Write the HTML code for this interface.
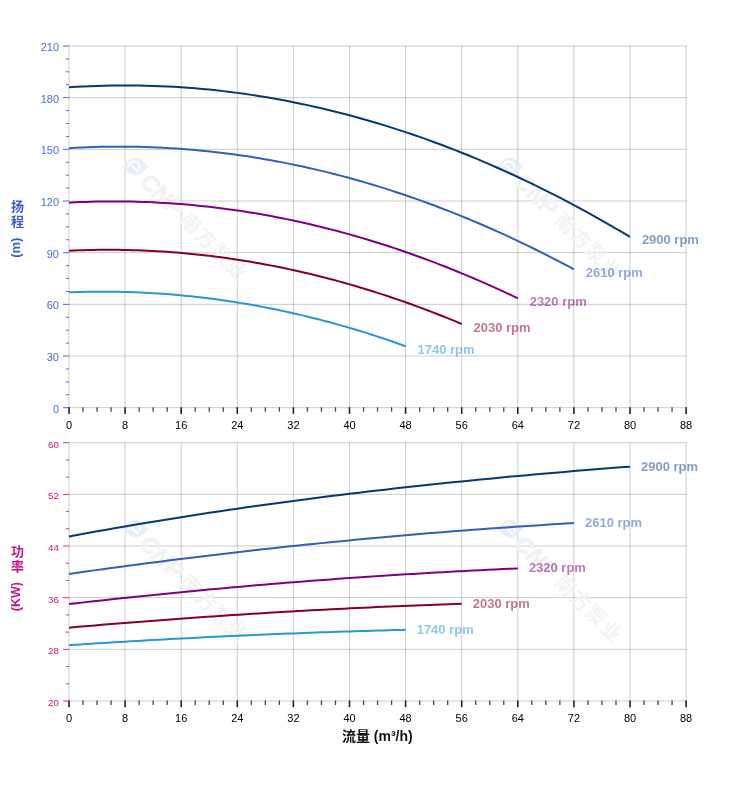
<!DOCTYPE html>
<html lang="zh"><head><meta charset="utf-8"><title>性能曲线</title>
<style>html,body{margin:0;padding:0;background:#fff}body{width:752px;height:797px;overflow:hidden}svg{display:block}</style>
</head><body>
<svg width="752" height="797" viewBox="0 0 752 797" font-family="'Liberation Sans','Noto Sans CJK SC',sans-serif">
<rect width="752" height="797" fill="#fff"/>
<g stroke="#000" stroke-opacity="0.2" stroke-width="1" fill="none">
<line x1="69.00" y1="45.50" x2="69.00" y2="408.20"/>
<line x1="125.10" y1="45.50" x2="125.10" y2="408.20"/>
<line x1="181.20" y1="45.50" x2="181.20" y2="408.20"/>
<line x1="237.30" y1="45.50" x2="237.30" y2="408.20"/>
<line x1="293.40" y1="45.50" x2="293.40" y2="408.20"/>
<line x1="349.50" y1="45.50" x2="349.50" y2="408.20"/>
<line x1="405.60" y1="45.50" x2="405.60" y2="408.20"/>
<line x1="461.70" y1="45.50" x2="461.70" y2="408.20"/>
<line x1="517.80" y1="45.50" x2="517.80" y2="408.20"/>
<line x1="573.90" y1="45.50" x2="573.90" y2="408.20"/>
<line x1="630.00" y1="45.50" x2="630.00" y2="408.20"/>
<line x1="686.10" y1="45.50" x2="686.10" y2="408.20"/>
<line x1="68.50" y1="46.00" x2="686.60" y2="46.00"/>
<line x1="68.50" y1="97.67" x2="686.60" y2="97.67"/>
<line x1="68.50" y1="149.34" x2="686.60" y2="149.34"/>
<line x1="68.50" y1="201.01" x2="686.60" y2="201.01"/>
<line x1="68.50" y1="252.69" x2="686.60" y2="252.69"/>
<line x1="68.50" y1="304.36" x2="686.60" y2="304.36"/>
<line x1="68.50" y1="356.03" x2="686.60" y2="356.03"/>
<line x1="68.50" y1="407.70" x2="686.60" y2="407.70"/>
</g>
<g stroke="#000" stroke-opacity="0.2" stroke-width="1" fill="none">
<line x1="69.00" y1="442.20" x2="69.00" y2="701.50"/>
<line x1="125.10" y1="442.20" x2="125.10" y2="701.50"/>
<line x1="181.20" y1="442.20" x2="181.20" y2="701.50"/>
<line x1="237.30" y1="442.20" x2="237.30" y2="701.50"/>
<line x1="293.40" y1="442.20" x2="293.40" y2="701.50"/>
<line x1="349.50" y1="442.20" x2="349.50" y2="701.50"/>
<line x1="405.60" y1="442.20" x2="405.60" y2="701.50"/>
<line x1="461.70" y1="442.20" x2="461.70" y2="701.50"/>
<line x1="517.80" y1="442.20" x2="517.80" y2="701.50"/>
<line x1="573.90" y1="442.20" x2="573.90" y2="701.50"/>
<line x1="630.00" y1="442.20" x2="630.00" y2="701.50"/>
<line x1="686.10" y1="442.20" x2="686.10" y2="701.50"/>
<line x1="68.50" y1="442.70" x2="686.60" y2="442.70"/>
<line x1="68.50" y1="494.36" x2="686.60" y2="494.36"/>
<line x1="68.50" y1="546.02" x2="686.60" y2="546.02"/>
<line x1="68.50" y1="597.68" x2="686.60" y2="597.68"/>
<line x1="68.50" y1="649.34" x2="686.60" y2="649.34"/>
<line x1="68.50" y1="701.00" x2="686.60" y2="701.00"/>
</g>
<g transform="translate(135.5,166.5) rotate(45)">
<g transform="rotate(-45)"><path d="M-13.3,0 L-6.09,-6.62 A9,9 0 0 1 6.09,-6.62 L13.3,0 L6.09,6.62 A9,9 0 0 1 -6.09,6.62 Z" fill="#e6eff9"/></g>
<path d="M4.25,-1.83 A5.8,5.8 0 1 0 -4.94,5.23 M-3.2,2 H4.8" fill="none" stroke="#fff" stroke-width="2.1" stroke-linecap="round"/>
<text x="13.5" y="9.3" font-size="23" font-weight="bold" font-style="italic" fill="#f1f2f4" stroke="#f1f2f4" stroke-width="1.1" textLength="50" lengthAdjust="spacingAndGlyphs">CNP</text>
<text x="69" y="8.5" font-size="20.5" font-weight="bold" fill="#f3f3f3" textLength="85" lengthAdjust="spacing">南方泵业</text>
</g>
<g transform="translate(510.0,166.5) rotate(45)">
<g transform="rotate(-45)"><path d="M-13.3,0 L-6.09,-6.62 A9,9 0 0 1 6.09,-6.62 L13.3,0 L6.09,6.62 A9,9 0 0 1 -6.09,6.62 Z" fill="#e6eff9"/></g>
<path d="M4.25,-1.83 A5.8,5.8 0 1 0 -4.94,5.23 M-3.2,2 H4.8" fill="none" stroke="#fff" stroke-width="2.1" stroke-linecap="round"/>
<text x="13.5" y="9.3" font-size="23" font-weight="bold" font-style="italic" fill="#f1f2f4" stroke="#f1f2f4" stroke-width="1.1" textLength="50" lengthAdjust="spacingAndGlyphs">CNP</text>
<text x="69" y="8.5" font-size="20.5" font-weight="bold" fill="#f3f3f3" textLength="85" lengthAdjust="spacing">南方泵业</text>
</g>
<g transform="translate(135.5,528.8) rotate(45)">
<g transform="rotate(-45)"><path d="M-13.3,0 L-6.09,-6.62 A9,9 0 0 1 6.09,-6.62 L13.3,0 L6.09,6.62 A9,9 0 0 1 -6.09,6.62 Z" fill="#e6eff9"/></g>
<path d="M4.25,-1.83 A5.8,5.8 0 1 0 -4.94,5.23 M-3.2,2 H4.8" fill="none" stroke="#fff" stroke-width="2.1" stroke-linecap="round"/>
<text x="13.5" y="9.3" font-size="23" font-weight="bold" font-style="italic" fill="#f1f2f4" stroke="#f1f2f4" stroke-width="1.1" textLength="50" lengthAdjust="spacingAndGlyphs">CNP</text>
<text x="69" y="8.5" font-size="20.5" font-weight="bold" fill="#f3f3f3" textLength="85" lengthAdjust="spacing">南方泵业</text>
</g>
<g transform="translate(510.0,528.8) rotate(45)">
<g transform="rotate(-45)"><path d="M-13.3,0 L-6.09,-6.62 A9,9 0 0 1 6.09,-6.62 L13.3,0 L6.09,6.62 A9,9 0 0 1 -6.09,6.62 Z" fill="#e6eff9"/></g>
<path d="M4.25,-1.83 A5.8,5.8 0 1 0 -4.94,5.23 M-3.2,2 H4.8" fill="none" stroke="#fff" stroke-width="2.1" stroke-linecap="round"/>
<text x="13.5" y="9.3" font-size="23" font-weight="bold" font-style="italic" fill="#f1f2f4" stroke="#f1f2f4" stroke-width="1.1" textLength="50" lengthAdjust="spacingAndGlyphs">CNP</text>
<text x="69" y="8.5" font-size="20.5" font-weight="bold" fill="#f3f3f3" textLength="85" lengthAdjust="spacing">南方泵业</text>
</g>
<g stroke="#3f5fe8" stroke-opacity="0.95" stroke-width="1">
<line x1="63.00" y1="46.00" x2="69.00" y2="46.00"/>
<line x1="66.00" y1="58.92" x2="69.00" y2="58.92"/>
<line x1="66.00" y1="71.84" x2="69.00" y2="71.84"/>
<line x1="66.00" y1="84.75" x2="69.00" y2="84.75"/>
<line x1="63.00" y1="97.67" x2="69.00" y2="97.67"/>
<line x1="66.00" y1="110.59" x2="69.00" y2="110.59"/>
<line x1="66.00" y1="123.51" x2="69.00" y2="123.51"/>
<line x1="66.00" y1="136.43" x2="69.00" y2="136.43"/>
<line x1="63.00" y1="149.34" x2="69.00" y2="149.34"/>
<line x1="66.00" y1="162.26" x2="69.00" y2="162.26"/>
<line x1="66.00" y1="175.18" x2="69.00" y2="175.18"/>
<line x1="66.00" y1="188.10" x2="69.00" y2="188.10"/>
<line x1="63.00" y1="201.01" x2="69.00" y2="201.01"/>
<line x1="66.00" y1="213.93" x2="69.00" y2="213.93"/>
<line x1="66.00" y1="226.85" x2="69.00" y2="226.85"/>
<line x1="66.00" y1="239.77" x2="69.00" y2="239.77"/>
<line x1="63.00" y1="252.69" x2="69.00" y2="252.69"/>
<line x1="66.00" y1="265.60" x2="69.00" y2="265.60"/>
<line x1="66.00" y1="278.52" x2="69.00" y2="278.52"/>
<line x1="66.00" y1="291.44" x2="69.00" y2="291.44"/>
<line x1="63.00" y1="304.36" x2="69.00" y2="304.36"/>
<line x1="66.00" y1="317.27" x2="69.00" y2="317.27"/>
<line x1="66.00" y1="330.19" x2="69.00" y2="330.19"/>
<line x1="66.00" y1="343.11" x2="69.00" y2="343.11"/>
<line x1="63.00" y1="356.03" x2="69.00" y2="356.03"/>
<line x1="66.00" y1="368.95" x2="69.00" y2="368.95"/>
<line x1="66.00" y1="381.86" x2="69.00" y2="381.86"/>
<line x1="66.00" y1="394.78" x2="69.00" y2="394.78"/>
<line x1="63.00" y1="407.70" x2="69.00" y2="407.70"/>
</g>
<g fill="#4a6ae2" font-size="11" text-anchor="end">
<text x="59" y="50.80">210</text>
<text x="59" y="102.80">180</text>
<text x="59" y="153.80">150</text>
<text x="59" y="205.80">120</text>
<text x="59" y="257.80">90</text>
<text x="59" y="308.80">60</text>
<text x="59" y="360.80">30</text>
<text x="59" y="412.80">0</text>
</g>
<g stroke="#c71585" stroke-opacity="0.85" stroke-width="1">
<line x1="63.00" y1="442.70" x2="69.00" y2="442.70"/>
<line x1="66.00" y1="459.92" x2="69.00" y2="459.92"/>
<line x1="66.00" y1="477.14" x2="69.00" y2="477.14"/>
<line x1="63.00" y1="494.36" x2="69.00" y2="494.36"/>
<line x1="66.00" y1="511.58" x2="69.00" y2="511.58"/>
<line x1="66.00" y1="528.80" x2="69.00" y2="528.80"/>
<line x1="63.00" y1="546.02" x2="69.00" y2="546.02"/>
<line x1="66.00" y1="563.24" x2="69.00" y2="563.24"/>
<line x1="66.00" y1="580.46" x2="69.00" y2="580.46"/>
<line x1="63.00" y1="597.68" x2="69.00" y2="597.68"/>
<line x1="66.00" y1="614.90" x2="69.00" y2="614.90"/>
<line x1="66.00" y1="632.12" x2="69.00" y2="632.12"/>
<line x1="63.00" y1="649.34" x2="69.00" y2="649.34"/>
<line x1="66.00" y1="666.56" x2="69.00" y2="666.56"/>
<line x1="66.00" y1="683.78" x2="69.00" y2="683.78"/>
<line x1="63.00" y1="701.00" x2="69.00" y2="701.00"/>
</g>
<g fill="#c71585" font-size="9.7" text-anchor="end">
<text x="58.8" y="448.00">60</text>
<text x="58.8" y="499.00">52</text>
<text x="58.8" y="551.00">44</text>
<text x="58.8" y="603.00">36</text>
<text x="58.8" y="654.00">28</text>
<text x="58.8" y="706.00">20</text>
</g>
<g stroke="#222" stroke-width="1.6">
<line x1="69.00" y1="407.20" x2="69.00" y2="413.90"/>
<line x1="83.03" y1="407.20" x2="83.03" y2="411.70" stroke-width="1.3" stroke="#444"/>
<line x1="97.05" y1="407.20" x2="97.05" y2="411.70" stroke-width="1.3" stroke="#444"/>
<line x1="111.08" y1="407.20" x2="111.08" y2="411.70" stroke-width="1.3" stroke="#444"/>
<line x1="125.10" y1="407.20" x2="125.10" y2="413.90"/>
<line x1="139.12" y1="407.20" x2="139.12" y2="411.70" stroke-width="1.3" stroke="#444"/>
<line x1="153.15" y1="407.20" x2="153.15" y2="411.70" stroke-width="1.3" stroke="#444"/>
<line x1="167.18" y1="407.20" x2="167.18" y2="411.70" stroke-width="1.3" stroke="#444"/>
<line x1="181.20" y1="407.20" x2="181.20" y2="413.90"/>
<line x1="195.23" y1="407.20" x2="195.23" y2="411.70" stroke-width="1.3" stroke="#444"/>
<line x1="209.25" y1="407.20" x2="209.25" y2="411.70" stroke-width="1.3" stroke="#444"/>
<line x1="223.28" y1="407.20" x2="223.28" y2="411.70" stroke-width="1.3" stroke="#444"/>
<line x1="237.30" y1="407.20" x2="237.30" y2="413.90"/>
<line x1="251.33" y1="407.20" x2="251.33" y2="411.70" stroke-width="1.3" stroke="#444"/>
<line x1="265.35" y1="407.20" x2="265.35" y2="411.70" stroke-width="1.3" stroke="#444"/>
<line x1="279.38" y1="407.20" x2="279.38" y2="411.70" stroke-width="1.3" stroke="#444"/>
<line x1="293.40" y1="407.20" x2="293.40" y2="413.90"/>
<line x1="307.43" y1="407.20" x2="307.43" y2="411.70" stroke-width="1.3" stroke="#444"/>
<line x1="321.45" y1="407.20" x2="321.45" y2="411.70" stroke-width="1.3" stroke="#444"/>
<line x1="335.47" y1="407.20" x2="335.47" y2="411.70" stroke-width="1.3" stroke="#444"/>
<line x1="349.50" y1="407.20" x2="349.50" y2="413.90"/>
<line x1="363.53" y1="407.20" x2="363.53" y2="411.70" stroke-width="1.3" stroke="#444"/>
<line x1="377.55" y1="407.20" x2="377.55" y2="411.70" stroke-width="1.3" stroke="#444"/>
<line x1="391.58" y1="407.20" x2="391.58" y2="411.70" stroke-width="1.3" stroke="#444"/>
<line x1="405.60" y1="407.20" x2="405.60" y2="413.90"/>
<line x1="419.62" y1="407.20" x2="419.62" y2="411.70" stroke-width="1.3" stroke="#444"/>
<line x1="433.65" y1="407.20" x2="433.65" y2="411.70" stroke-width="1.3" stroke="#444"/>
<line x1="447.68" y1="407.20" x2="447.68" y2="411.70" stroke-width="1.3" stroke="#444"/>
<line x1="461.70" y1="407.20" x2="461.70" y2="413.90"/>
<line x1="475.73" y1="407.20" x2="475.73" y2="411.70" stroke-width="1.3" stroke="#444"/>
<line x1="489.75" y1="407.20" x2="489.75" y2="411.70" stroke-width="1.3" stroke="#444"/>
<line x1="503.78" y1="407.20" x2="503.78" y2="411.70" stroke-width="1.3" stroke="#444"/>
<line x1="517.80" y1="407.20" x2="517.80" y2="413.90"/>
<line x1="531.83" y1="407.20" x2="531.83" y2="411.70" stroke-width="1.3" stroke="#444"/>
<line x1="545.85" y1="407.20" x2="545.85" y2="411.70" stroke-width="1.3" stroke="#444"/>
<line x1="559.88" y1="407.20" x2="559.88" y2="411.70" stroke-width="1.3" stroke="#444"/>
<line x1="573.90" y1="407.20" x2="573.90" y2="413.90"/>
<line x1="587.93" y1="407.20" x2="587.93" y2="411.70" stroke-width="1.3" stroke="#444"/>
<line x1="601.95" y1="407.20" x2="601.95" y2="411.70" stroke-width="1.3" stroke="#444"/>
<line x1="615.98" y1="407.20" x2="615.98" y2="411.70" stroke-width="1.3" stroke="#444"/>
<line x1="630.00" y1="407.20" x2="630.00" y2="413.90"/>
<line x1="644.03" y1="407.20" x2="644.03" y2="411.70" stroke-width="1.3" stroke="#444"/>
<line x1="658.05" y1="407.20" x2="658.05" y2="411.70" stroke-width="1.3" stroke="#444"/>
<line x1="672.07" y1="407.20" x2="672.07" y2="411.70" stroke-width="1.3" stroke="#444"/>
<line x1="686.10" y1="407.20" x2="686.10" y2="413.90"/>
</g>
<g fill="#000" font-size="11" text-anchor="middle">
<text x="69.00" y="429">0</text>
<text x="125.10" y="429">8</text>
<text x="181.20" y="429">16</text>
<text x="237.30" y="429">24</text>
<text x="293.40" y="429">32</text>
<text x="349.50" y="429">40</text>
<text x="405.60" y="429">48</text>
<text x="461.70" y="429">56</text>
<text x="517.80" y="429">64</text>
<text x="573.90" y="429">72</text>
<text x="630.00" y="429">80</text>
<text x="686.10" y="429">88</text>
</g>
<g stroke="#222" stroke-width="1.6">
<line x1="69.00" y1="700.50" x2="69.00" y2="707.20"/>
<line x1="83.03" y1="700.50" x2="83.03" y2="705.00" stroke-width="1.3" stroke="#444"/>
<line x1="97.05" y1="700.50" x2="97.05" y2="705.00" stroke-width="1.3" stroke="#444"/>
<line x1="111.08" y1="700.50" x2="111.08" y2="705.00" stroke-width="1.3" stroke="#444"/>
<line x1="125.10" y1="700.50" x2="125.10" y2="707.20"/>
<line x1="139.12" y1="700.50" x2="139.12" y2="705.00" stroke-width="1.3" stroke="#444"/>
<line x1="153.15" y1="700.50" x2="153.15" y2="705.00" stroke-width="1.3" stroke="#444"/>
<line x1="167.18" y1="700.50" x2="167.18" y2="705.00" stroke-width="1.3" stroke="#444"/>
<line x1="181.20" y1="700.50" x2="181.20" y2="707.20"/>
<line x1="195.23" y1="700.50" x2="195.23" y2="705.00" stroke-width="1.3" stroke="#444"/>
<line x1="209.25" y1="700.50" x2="209.25" y2="705.00" stroke-width="1.3" stroke="#444"/>
<line x1="223.28" y1="700.50" x2="223.28" y2="705.00" stroke-width="1.3" stroke="#444"/>
<line x1="237.30" y1="700.50" x2="237.30" y2="707.20"/>
<line x1="251.33" y1="700.50" x2="251.33" y2="705.00" stroke-width="1.3" stroke="#444"/>
<line x1="265.35" y1="700.50" x2="265.35" y2="705.00" stroke-width="1.3" stroke="#444"/>
<line x1="279.38" y1="700.50" x2="279.38" y2="705.00" stroke-width="1.3" stroke="#444"/>
<line x1="293.40" y1="700.50" x2="293.40" y2="707.20"/>
<line x1="307.43" y1="700.50" x2="307.43" y2="705.00" stroke-width="1.3" stroke="#444"/>
<line x1="321.45" y1="700.50" x2="321.45" y2="705.00" stroke-width="1.3" stroke="#444"/>
<line x1="335.47" y1="700.50" x2="335.47" y2="705.00" stroke-width="1.3" stroke="#444"/>
<line x1="349.50" y1="700.50" x2="349.50" y2="707.20"/>
<line x1="363.53" y1="700.50" x2="363.53" y2="705.00" stroke-width="1.3" stroke="#444"/>
<line x1="377.55" y1="700.50" x2="377.55" y2="705.00" stroke-width="1.3" stroke="#444"/>
<line x1="391.58" y1="700.50" x2="391.58" y2="705.00" stroke-width="1.3" stroke="#444"/>
<line x1="405.60" y1="700.50" x2="405.60" y2="707.20"/>
<line x1="419.62" y1="700.50" x2="419.62" y2="705.00" stroke-width="1.3" stroke="#444"/>
<line x1="433.65" y1="700.50" x2="433.65" y2="705.00" stroke-width="1.3" stroke="#444"/>
<line x1="447.68" y1="700.50" x2="447.68" y2="705.00" stroke-width="1.3" stroke="#444"/>
<line x1="461.70" y1="700.50" x2="461.70" y2="707.20"/>
<line x1="475.73" y1="700.50" x2="475.73" y2="705.00" stroke-width="1.3" stroke="#444"/>
<line x1="489.75" y1="700.50" x2="489.75" y2="705.00" stroke-width="1.3" stroke="#444"/>
<line x1="503.78" y1="700.50" x2="503.78" y2="705.00" stroke-width="1.3" stroke="#444"/>
<line x1="517.80" y1="700.50" x2="517.80" y2="707.20"/>
<line x1="531.83" y1="700.50" x2="531.83" y2="705.00" stroke-width="1.3" stroke="#444"/>
<line x1="545.85" y1="700.50" x2="545.85" y2="705.00" stroke-width="1.3" stroke="#444"/>
<line x1="559.88" y1="700.50" x2="559.88" y2="705.00" stroke-width="1.3" stroke="#444"/>
<line x1="573.90" y1="700.50" x2="573.90" y2="707.20"/>
<line x1="587.93" y1="700.50" x2="587.93" y2="705.00" stroke-width="1.3" stroke="#444"/>
<line x1="601.95" y1="700.50" x2="601.95" y2="705.00" stroke-width="1.3" stroke="#444"/>
<line x1="615.98" y1="700.50" x2="615.98" y2="705.00" stroke-width="1.3" stroke="#444"/>
<line x1="630.00" y1="700.50" x2="630.00" y2="707.20"/>
<line x1="644.03" y1="700.50" x2="644.03" y2="705.00" stroke-width="1.3" stroke="#444"/>
<line x1="658.05" y1="700.50" x2="658.05" y2="705.00" stroke-width="1.3" stroke="#444"/>
<line x1="672.07" y1="700.50" x2="672.07" y2="705.00" stroke-width="1.3" stroke="#444"/>
<line x1="686.10" y1="700.50" x2="686.10" y2="707.20"/>
</g>
<g fill="#000" font-size="11" text-anchor="middle">
<text x="69.00" y="722">0</text>
<text x="125.10" y="722">8</text>
<text x="181.20" y="722">16</text>
<text x="237.30" y="722">24</text>
<text x="293.40" y="722">32</text>
<text x="349.50" y="722">40</text>
<text x="405.60" y="722">48</text>
<text x="461.70" y="722">56</text>
<text x="517.80" y="722">64</text>
<text x="573.90" y="722">72</text>
<text x="630.00" y="722">80</text>
<text x="686.10" y="722">88</text>
</g>
<g fill="none" stroke-width="2" stroke-linejoin="round" stroke-linecap="butt">
<path d="M69.00,87.31 L76.01,86.87 L83.03,86.48 L90.04,86.16 L97.05,85.90 L104.06,85.69 L111.08,85.54 L118.09,85.45 L125.10,85.42 L132.11,85.45 L139.12,85.54 L146.14,85.68 L153.15,85.88 L160.16,86.14 L167.18,86.46 L174.19,86.84 L181.20,87.28 L188.21,87.77 L195.23,88.33 L202.24,88.94 L209.25,89.61 L216.26,90.34 L223.28,91.13 L230.29,91.98 L237.30,92.88 L244.31,93.84 L251.33,94.87 L258.34,95.95 L265.35,97.08 L272.36,98.28 L279.38,99.54 L286.39,100.85 L293.40,102.22 L300.41,103.65 L307.43,105.14 L314.44,106.69 L321.45,108.30 L328.46,109.96 L335.47,111.69 L342.49,113.47 L349.50,115.31 L356.51,117.21 L363.53,119.17 L370.54,121.18 L377.55,123.26 L384.56,125.39 L391.58,127.58 L398.59,129.83 L405.60,132.14 L412.61,134.50 L419.62,136.93 L426.64,139.41 L433.65,141.96 L440.66,144.56 L447.68,147.22 L454.69,149.93 L461.70,152.71 L468.71,155.54 L475.73,158.44 L482.74,161.39 L489.75,164.40 L496.76,167.47 L503.78,170.59 L510.79,173.78 L517.80,177.02 L524.81,180.33 L531.83,183.69 L538.84,187.11 L545.85,190.58 L552.86,194.12 L559.88,197.71 L566.89,201.37 L573.90,205.08 L580.91,208.85 L587.93,212.68 L594.94,216.57 L601.95,220.51 L608.96,224.52 L615.98,228.58 L622.99,232.70 L630.00,236.88" stroke="#06396f"/>
<path d="M69.00,148.18 L75.31,147.82 L81.62,147.52 L87.93,147.25 L94.25,147.04 L100.56,146.87 L106.87,146.75 L113.18,146.68 L119.49,146.65 L125.80,146.68 L132.11,146.75 L138.42,146.86 L144.74,147.03 L151.05,147.24 L157.36,147.50 L163.67,147.81 L169.98,148.16 L176.29,148.56 L182.60,149.01 L188.91,149.51 L195.23,150.05 L201.54,150.64 L207.85,151.28 L214.16,151.96 L220.47,152.70 L226.78,153.48 L233.09,154.30 L239.40,155.18 L245.72,156.10 L252.03,157.07 L258.34,158.09 L264.65,159.15 L270.96,160.26 L277.27,161.42 L283.58,162.63 L289.89,163.88 L296.21,165.18 L302.52,166.53 L308.83,167.93 L315.14,169.37 L321.45,170.86 L327.76,172.40 L334.07,173.99 L340.38,175.62 L346.70,177.30 L353.01,179.03 L359.32,180.80 L365.63,182.63 L371.94,184.49 L378.25,186.41 L384.56,188.38 L390.87,190.39 L397.19,192.45 L403.50,194.55 L409.81,196.71 L416.12,198.91 L422.43,201.16 L428.74,203.45 L435.05,205.80 L441.36,208.19 L447.68,210.63 L453.99,213.11 L460.30,215.64 L466.61,218.22 L472.92,220.85 L479.23,223.53 L485.54,226.25 L491.85,229.02 L498.17,231.84 L504.48,234.70 L510.79,237.61 L517.10,240.57 L523.41,243.58 L529.72,246.63 L536.03,249.73 L542.34,252.88 L548.66,256.08 L554.97,259.32 L561.28,262.61 L567.59,265.95 L573.90,269.34" stroke="#335fb4"/>
<path d="M69.00,202.65 L74.61,202.37 L80.22,202.12 L85.83,201.92 L91.44,201.75 L97.05,201.61 L102.66,201.52 L108.27,201.46 L113.88,201.44 L119.49,201.46 L125.10,201.51 L130.71,201.61 L136.32,201.74 L141.93,201.90 L147.54,202.11 L153.15,202.35 L158.76,202.63 L164.37,202.95 L169.98,203.30 L175.59,203.69 L181.20,204.12 L186.81,204.59 L192.42,205.09 L198.03,205.64 L203.64,206.22 L209.25,206.83 L214.86,207.49 L220.47,208.18 L226.08,208.91 L231.69,209.67 L237.30,210.48 L242.91,211.32 L248.52,212.20 L254.13,213.11 L259.74,214.06 L265.35,215.05 L270.96,216.08 L276.57,217.15 L282.18,218.25 L287.79,219.39 L293.40,220.57 L299.01,221.79 L304.62,223.04 L310.23,224.33 L315.84,225.66 L321.45,227.02 L327.06,228.42 L332.67,229.86 L338.28,231.34 L343.89,232.86 L349.50,234.41 L355.11,236.00 L360.72,237.62 L366.33,239.29 L371.94,240.99 L377.55,242.73 L383.16,244.51 L388.77,246.32 L394.38,248.17 L399.99,250.06 L405.60,251.99 L411.21,253.95 L416.82,255.95 L422.43,257.99 L428.04,260.07 L433.65,262.18 L439.26,264.33 L444.87,266.52 L450.48,268.75 L456.09,271.01 L461.70,273.31 L467.31,275.65 L472.92,278.02 L478.53,280.44 L484.14,282.89 L489.75,285.37 L495.36,287.90 L500.97,290.46 L506.58,293.06 L512.19,295.70 L517.80,298.37" stroke="#800080"/>
<path d="M69.00,250.71 L73.91,250.49 L78.82,250.30 L83.73,250.15 L88.63,250.02 L93.54,249.91 L98.45,249.84 L103.36,249.80 L108.27,249.78 L113.18,249.80 L118.09,249.84 L123.00,249.91 L127.91,250.01 L132.81,250.14 L137.72,250.29 L142.63,250.48 L147.54,250.69 L152.45,250.94 L157.36,251.21 L162.27,251.51 L167.18,251.84 L172.08,252.19 L176.99,252.58 L181.90,252.99 L186.81,253.44 L191.72,253.91 L196.63,254.41 L201.54,254.94 L206.44,255.50 L211.35,256.08 L216.26,256.70 L221.17,257.34 L226.08,258.02 L230.99,258.72 L235.90,259.45 L240.81,260.21 L245.72,260.99 L250.62,261.81 L255.53,262.65 L260.44,263.53 L265.35,264.43 L270.26,265.36 L275.17,266.32 L280.08,267.31 L284.99,268.32 L289.89,269.37 L294.80,270.44 L299.71,271.54 L304.62,272.67 L309.53,273.83 L314.44,275.02 L319.35,276.24 L324.25,277.49 L329.16,278.76 L334.07,280.06 L338.98,281.39 L343.89,282.75 L348.80,284.14 L353.71,285.56 L358.62,287.01 L363.53,288.48 L368.43,289.99 L373.34,291.52 L378.25,293.08 L383.16,294.67 L388.07,296.29 L392.98,297.93 L397.89,299.61 L402.80,301.31 L407.70,303.05 L412.61,304.81 L417.52,306.60 L422.43,308.42 L427.34,310.26 L432.25,312.14 L437.16,314.04 L442.06,315.98 L446.97,317.94 L451.88,319.93 L456.79,321.95 L461.70,324.00" stroke="#85002a"/>
<path d="M69.00,292.36 L73.21,292.20 L77.41,292.06 L81.62,291.95 L85.83,291.85 L90.04,291.78 L94.25,291.72 L98.45,291.69 L102.66,291.68 L106.87,291.69 L111.08,291.72 L115.28,291.77 L119.49,291.85 L123.70,291.94 L127.91,292.06 L132.11,292.19 L136.32,292.35 L140.53,292.53 L144.74,292.73 L148.94,292.95 L153.15,293.19 L157.36,293.45 L161.56,293.73 L165.77,294.04 L169.98,294.36 L174.19,294.71 L178.39,295.08 L182.60,295.47 L186.81,295.88 L191.02,296.31 L195.23,296.76 L199.43,297.23 L203.64,297.73 L207.85,298.24 L212.06,298.78 L216.26,299.34 L220.47,299.92 L224.68,300.51 L228.89,301.14 L233.09,301.78 L237.30,302.44 L241.51,303.12 L245.72,303.83 L249.92,304.55 L254.13,305.30 L258.34,306.07 L262.54,306.86 L266.75,307.67 L270.96,308.50 L275.17,309.35 L279.38,310.22 L283.58,311.12 L287.79,312.03 L292.00,312.97 L296.21,313.93 L300.41,314.90 L304.62,315.90 L308.83,316.92 L313.03,317.97 L317.24,319.03 L321.45,320.11 L325.66,321.22 L329.87,322.34 L334.07,323.49 L338.28,324.66 L342.49,325.85 L346.70,327.06 L350.90,328.29 L355.11,329.54 L359.32,330.81 L363.53,332.11 L367.73,333.42 L371.94,334.76 L376.15,336.11 L380.36,337.49 L384.56,338.89 L388.77,340.31 L392.98,341.75 L397.19,343.22 L401.39,344.70 L405.60,346.20" stroke="#2598d8"/>
<path d="M69.00,536.48 L78.35,534.74 L87.70,533.04 L97.05,531.35 L106.40,529.69 L115.75,528.05 L125.10,526.43 L134.45,524.84 L143.80,523.27 L153.15,521.71 L162.50,520.19 L171.85,518.68 L181.20,517.19 L190.55,515.72 L199.90,514.28 L209.25,512.85 L218.60,511.45 L227.95,510.07 L237.30,508.70 L246.65,507.36 L256.00,506.03 L265.35,504.73 L274.70,503.44 L284.05,502.17 L293.40,500.92 L302.75,499.69 L312.10,498.48 L321.45,497.28 L330.80,496.11 L340.15,494.95 L349.50,493.81 L358.85,492.68 L368.20,491.58 L377.55,490.48 L386.90,489.41 L396.25,488.35 L405.60,487.31 L414.95,486.29 L424.30,485.28 L433.65,484.28 L443.00,483.31 L452.35,482.34 L461.70,481.39 L471.05,480.46 L480.40,479.54 L489.75,478.64 L499.10,477.75 L508.45,476.87 L517.80,476.01 L527.15,475.16 L536.50,474.32 L545.85,473.50 L555.20,472.69 L564.55,471.89 L573.90,471.11 L583.25,470.34 L592.60,469.57 L601.95,468.83 L611.30,468.09 L620.65,467.36 L630.00,466.65" stroke="#06396f"/>
<path d="M69.00,573.95 L77.41,572.75 L85.83,571.56 L94.25,570.38 L102.66,569.21 L111.08,568.06 L119.49,566.92 L127.91,565.79 L136.32,564.67 L144.74,563.56 L153.15,562.47 L161.56,561.39 L169.98,560.32 L178.39,559.26 L186.81,558.21 L195.23,557.18 L203.64,556.16 L212.06,555.15 L220.47,554.15 L228.89,553.17 L237.30,552.19 L245.72,551.23 L254.13,550.28 L262.54,549.34 L270.96,548.42 L279.38,547.50 L287.79,546.60 L296.21,545.71 L304.62,544.84 L313.03,543.97 L321.45,543.12 L329.87,542.28 L338.28,541.45 L346.70,540.63 L355.11,539.82 L363.53,539.03 L371.94,538.25 L380.36,537.48 L388.77,536.72 L397.19,535.98 L405.60,535.24 L414.01,534.52 L422.43,533.81 L430.85,533.12 L439.26,532.43 L447.68,531.76 L456.09,531.10 L464.51,530.45 L472.92,529.81 L481.34,529.18 L489.75,528.57 L498.16,527.97 L506.58,527.38 L514.99,526.80 L523.41,526.24 L531.83,525.69 L540.24,525.14 L548.65,524.62 L557.07,524.10 L565.49,523.59 L573.90,523.10" stroke="#335fb4"/>
<path d="M69.00,604.08 L76.48,603.23 L83.96,602.38 L91.44,601.54 L98.92,600.72 L106.40,599.90 L113.88,599.09 L121.36,598.28 L128.84,597.49 L136.32,596.71 L143.80,595.93 L151.28,595.16 L158.76,594.41 L166.24,593.66 L173.72,592.92 L181.20,592.18 L188.68,591.46 L196.16,590.75 L203.64,590.04 L211.12,589.35 L218.60,588.66 L226.08,587.98 L233.56,587.31 L241.04,586.65 L248.52,586.00 L256.00,585.35 L263.48,584.72 L270.96,584.09 L278.44,583.48 L285.92,582.87 L293.40,582.27 L300.88,581.68 L308.36,581.10 L315.84,580.52 L323.32,579.96 L330.80,579.41 L338.28,578.86 L345.76,578.32 L353.24,577.79 L360.72,577.27 L368.20,576.76 L375.68,576.26 L383.16,575.77 L390.64,575.28 L398.12,574.80 L405.60,574.34 L413.08,573.88 L420.56,573.43 L428.04,572.99 L435.52,572.56 L443.00,572.13 L450.48,571.72 L457.96,571.32 L465.44,570.92 L472.92,570.53 L480.40,570.15 L487.88,569.78 L495.36,569.42 L502.84,569.07 L510.32,568.72 L517.80,568.39" stroke="#800080"/>
<path d="M69.00,627.68 L75.55,627.10 L82.09,626.53 L88.63,625.97 L95.18,625.41 L101.72,624.86 L108.27,624.31 L114.81,623.77 L121.36,623.23 L127.91,622.70 L134.45,622.18 L141.00,621.67 L147.54,621.15 L154.08,620.65 L160.63,620.15 L167.18,619.66 L173.72,619.17 L180.27,618.69 L186.81,618.22 L193.36,617.75 L199.90,617.29 L206.45,616.83 L212.99,616.39 L219.54,615.94 L226.08,615.50 L232.62,615.07 L239.17,614.65 L245.72,614.23 L252.26,613.82 L258.81,613.41 L265.35,613.01 L271.89,612.61 L278.44,612.22 L284.99,611.84 L291.53,611.47 L298.07,611.09 L304.62,610.73 L311.16,610.37 L317.71,610.02 L324.25,609.67 L330.80,609.33 L337.35,609.00 L343.89,608.67 L350.44,608.35 L356.98,608.03 L363.53,607.72 L370.07,607.42 L376.62,607.12 L383.16,606.83 L389.70,606.55 L396.25,606.27 L402.80,605.99 L409.34,605.73 L415.88,605.47 L422.43,605.21 L428.98,604.96 L435.52,604.72 L442.06,604.48 L448.61,604.25 L455.16,604.03 L461.70,603.81" stroke="#85002a"/>
<path d="M69.00,645.16 L74.61,644.79 L80.22,644.42 L85.83,644.06 L91.44,643.70 L97.05,643.35 L102.66,643.00 L108.27,642.65 L113.88,642.31 L119.49,641.97 L125.10,641.64 L130.71,641.30 L136.32,640.98 L141.93,640.65 L147.54,640.34 L153.15,640.02 L158.76,639.71 L164.37,639.40 L169.98,639.10 L175.59,638.80 L181.20,638.50 L186.81,638.21 L192.42,637.92 L198.03,637.63 L203.64,637.35 L209.25,637.08 L214.86,636.80 L220.47,636.53 L226.08,636.27 L231.69,636.01 L237.30,635.75 L242.91,635.50 L248.52,635.25 L254.13,635.00 L259.74,634.76 L265.35,634.52 L270.96,634.29 L276.57,634.05 L282.18,633.83 L287.79,633.60 L293.40,633.39 L299.01,633.17 L304.62,632.96 L310.23,632.75 L315.84,632.55 L321.45,632.35 L327.06,632.15 L332.67,631.96 L338.28,631.77 L343.89,631.59 L349.50,631.41 L355.11,631.23 L360.72,631.06 L366.33,630.89 L371.94,630.72 L377.55,630.56 L383.16,630.41 L388.77,630.25 L394.38,630.10 L399.99,629.96 L405.60,629.81" stroke="#2598d8"/>
</g>
<g font-size="12.8" font-weight="bold" stroke="none">
<text x="641.90" y="244.38" fill="#0d4a8c" opacity="0.53" textLength="57" lengthAdjust="spacingAndGlyphs">2900 rpm</text>
<text x="641.10" y="470.95" fill="#0d4a8c" opacity="0.53" textLength="57" lengthAdjust="spacingAndGlyphs">2900 rpm</text>
<text x="585.80" y="276.84" fill="#335fb4" opacity="0.53" textLength="57" lengthAdjust="spacingAndGlyphs">2610 rpm</text>
<text x="585.00" y="527.40" fill="#335fb4" opacity="0.53" textLength="57" lengthAdjust="spacingAndGlyphs">2610 rpm</text>
<text x="529.70" y="305.87" fill="#800080" opacity="0.53" textLength="57" lengthAdjust="spacingAndGlyphs">2320 rpm</text>
<text x="528.90" y="571.69" fill="#800080" opacity="0.53" textLength="57" lengthAdjust="spacingAndGlyphs">2320 rpm</text>
<text x="473.60" y="331.50" fill="#85002a" opacity="0.53" textLength="57" lengthAdjust="spacingAndGlyphs">2030 rpm</text>
<text x="472.80" y="608.11" fill="#85002a" opacity="0.53" textLength="57" lengthAdjust="spacingAndGlyphs">2030 rpm</text>
<text x="417.50" y="353.70" fill="#2598d8" opacity="0.53" textLength="57" lengthAdjust="spacingAndGlyphs">1740 rpm</text>
<text x="416.70" y="634.11" fill="#2598d8" opacity="0.53" textLength="57" lengthAdjust="spacingAndGlyphs">1740 rpm</text>
</g>
<g fill="#3a5ae0" font-weight="bold" font-size="13">
<text x="17.5" y="211.2" text-anchor="middle">扬</text>
<text x="17.5" y="226.3" text-anchor="middle">程</text>
<text transform="translate(20.3,257.8) rotate(-90)" font-size="13">(m)</text>
</g>
<g fill="#c71585" font-weight="bold" font-size="13">
<text x="17.5" y="556.1" text-anchor="middle">功</text>
<text x="17.5" y="570.6" text-anchor="middle">率</text>
<text transform="translate(20.3,611.2) rotate(-90)" font-size="12.5">(KW)</text>
</g>
<text x="377.3" y="741.2" text-anchor="middle" font-size="14" font-weight="bold" fill="#111">流量 (m³/h)</text>
</svg>
</body></html>
